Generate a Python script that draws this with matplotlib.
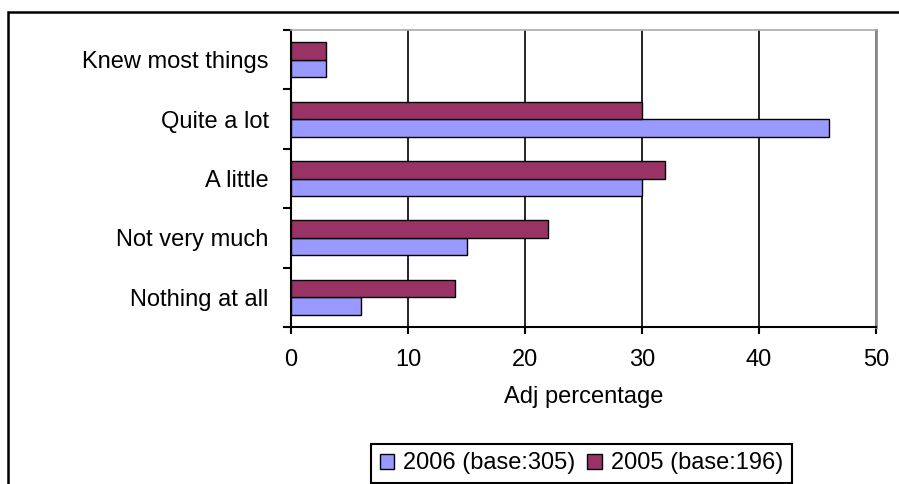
import numpy as np
import matplotlib.pyplot as plt
from matplotlib.patches import Patch, Rectangle

# data
categories = ['Nothing at all', 'Not very much', 'A little', 'Quite a lot', 'Knew most things']
values_2006 = [6, 15, 30, 46, 3]
values_2005 = [14, 22, 32, 30, 3]
xticks = [0, 10, 20, 30, 40, 50]
label_2006 = '2006 (base:305)'
label_2005 = '2005 (base:196)'
xlabel = 'Adj percentage'

plt.rcParams['font.family'] = ['Liberation Sans', 'DejaVu Sans']
FS = 17
W, H = 899, 484

fig = plt.figure(figsize=(W / 100, H / 100), dpi=100)
ax = fig.add_axes([291 / W, 1 - 327 / H, (876 - 291) / W, (327 - 30) / H])

y = np.arange(len(categories))
h = 0.295
ax.barh(y - h / 2, values_2006, height=h, color='#9999FF', edgecolor='black',
        linewidth=1, zorder=3)
ax.barh(y + h / 2, values_2005, height=h, color='#993366', edgecolor='black',
        linewidth=1, zorder=3)

ax.set_xlim(0, 50)
ax.set_ylim(-0.5, len(categories) - 0.5)
ax.set_xticks(xticks)
ax.set_xticklabels([str(t) for t in xticks], fontsize=FS)
ax.xaxis.grid(True, color='black', linewidth=1.2, zorder=1)
ax.set_axisbelow(True)

# category labels at centers, tick marks at the boundaries
ax.set_yticks(y)
ax.set_yticklabels(categories, fontsize=FS)
ax.set_yticks(np.arange(-0.5, len(categories), 1), minor=True)
ax.tick_params(axis='y', which='major', length=0, pad=16)
ax.tick_params(axis='y', which='minor', length=6, width=1.5, direction='out')
ax.tick_params(axis='x', which='major', length=5, width=1.5, direction='out', pad=11)

ax.set_xlabel(xlabel, fontsize=FS, labelpad=11)

ax.spines['left'].set_linewidth(1.5)
ax.spines['bottom'].set_linewidth(1.5)
ax.spines['top'].set_color('#aaaaaa')
ax.spines['top'].set_linewidth(1.2)
ax.spines['right'].set_color('#8c8c8c')
ax.spines['right'].set_linewidth(2)

# outer chart frame (cut off at right and bottom)
fig.add_artist(Rectangle((8 / W, -0.2), 1.2, 1 - 12 / H + 0.2, transform=fig.transFigure,
                         fill=False, edgecolor='black', linewidth=1.8))

handles = [Patch(facecolor='#9999FF', edgecolor='black', label=label_2006),
           Patch(facecolor='#993366', edgecolor='black', label=label_2005)]
leg = fig.legend(handles=handles, loc='center', bbox_to_anchor=(581.5 / W, 1 - 463.5 / H),
                 ncol=2, fontsize=FS, frameon=True, fancybox=False, framealpha=1,
                 edgecolor='black', handlelength=0.6, handleheight=0.6,
                 handletextpad=0.4, columnspacing=0.5, borderpad=0.35, borderaxespad=0)
leg.get_frame().set_linewidth(1.5)

plt.savefig('out.png', dpi=100)
